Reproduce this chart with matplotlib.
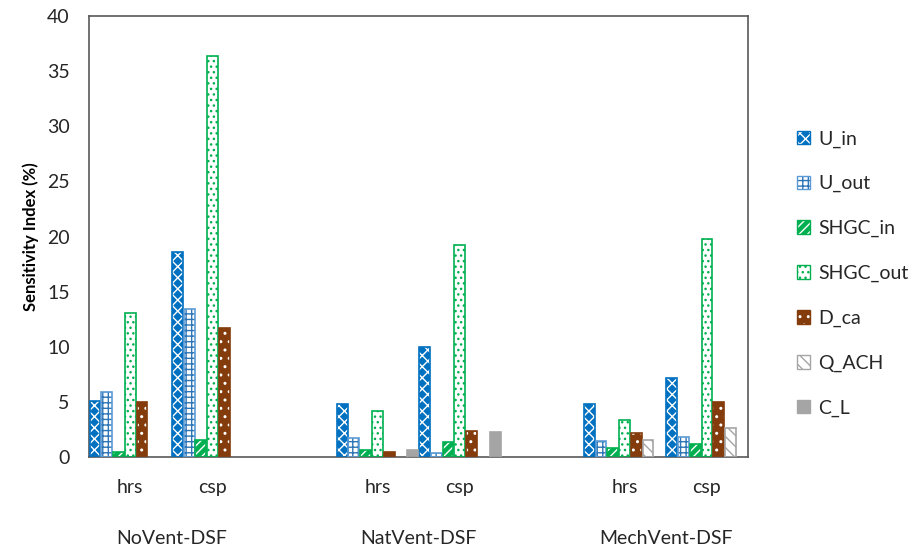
import matplotlib
matplotlib.use("Agg")
import matplotlib.pyplot as plt
import numpy as np

plt.rcParams['font.family'] = ['Lato', 'DejaVu Sans']
plt.rcParams['hatch.linewidth'] = 1.0

groups = ["NoVent-DSF", "NatVent-DSF", "MechVent-DSF"]
subcats = ["hrs", "csp"]
series = ["U_in", "U_out", "SHGC_in", "SHGC_out", "D_ca", "Q_ACH", "C_L"]

# values per series, order: NoVent hrs, NoVent csp, NatVent hrs, NatVent csp, MechVent hrs, MechVent csp
U_in     = [5.1, 18.6, 4.8, 10.0, 4.8, 7.2]
U_out    = [5.9, 13.4, 1.7, 0.4, 1.45, 1.8]
SHGC_in  = [0.5, 1.55, 0.6, 1.4, 0.85, 1.2]
SHGC_out = [13.1, 36.4, 4.2, 19.2, 3.4, 19.8]
D_ca     = [5.0, 11.7, 0.5, 2.4, 2.15, 4.95]
Q_ACH    = [0.0, 0.0, 0.0, 0.0, 1.55, 2.6]
C_L      = [0.0, 0.0, 0.6, 2.25, 0.0, 0.0]
data = [U_in, U_out, SHGC_in, SHGC_out, D_ca, Q_ACH, C_L]

# style: (face, hatch, hatch colour, edge colour)
styles = [
    ("#0070C0", "xxx", "white", "#0070C0"),
    ("white", "+++", "#2E75B6", "#5B9BD5"),
    ("#00B050", "////", "white", "#00B050"),
    ("white", "...", "#00B050", "#00B050"),
    ("#843C0C", "..", "white", "#843C0C"),
    ("white", "\\\\\\", "#A5A5A5", "#A5A5A5"),
    ("#A5A5A5", "", "#A5A5A5", "#A5A5A5"),
]

slots = [0, 1, 3, 4, 6, 7]
nser = len(series)
bw = 1.0 / nser

fig = plt.figure(figsize=(9.09, 5.47), dpi=100)
ax = fig.add_axes([0.098, 0.1645, 0.725, 0.806])

handles = []
for i, (name, vals) in enumerate(zip(series, data)):
    face, hatch, hcol, ecol = styles[i]
    xs = [s - 0.5 + (i + 0.5) * bw for s in slots]
    xv = [x for x, v in zip(xs, vals) if v > 0]
    vv = [v for v in vals if v > 0]
    ax.bar(xv, vv, width=bw * 0.92, color=face, edgecolor=hcol, hatch=hatch, linewidth=0, zorder=2)
    ax.bar(xv, vv, width=bw * 0.92, facecolor="none", edgecolor=ecol, linewidth=1.2, zorder=3)
    h1 = plt.Rectangle((0, 0), 1, 1, facecolor=face, edgecolor=hcol, hatch=hatch, linewidth=0)
    h2 = plt.Rectangle((0, 0), 1, 1, facecolor="none", edgecolor=ecol, linewidth=1.0)
    handles.append((h1, h2))

ax.set_xlim(-0.5, 7.5)
ax.set_ylim(0, 40)
ax.set_yticks(np.arange(0, 41, 5))
ax.tick_params(axis='y', length=0, labelsize=14, pad=14, colors="#262626")
ax.set_xticks([])
for sp in ax.spines.values():
    sp.set_color("#595959")
    sp.set_linewidth(1.2)
ax.set_ylabel("Sensitivity Index (%)", fontsize=12, fontweight='bold', labelpad=6)

trans = ax.get_xaxis_transform()
for gi, g in enumerate(groups):
    for si, sc in enumerate(subcats):
        s = slots[gi * 2 + si]
        ax.text(s, -0.07, sc, transform=trans, ha='center', va='center', fontsize=14, color="#262626")
    ax.text((slots[gi * 2] + slots[gi * 2 + 1]) / 2, -0.185, g, transform=trans,
            ha='center', va='center', fontsize=14, color="#262626")

leg = fig.legend(handles, series, loc='center left', bbox_to_anchor=(0.857, 0.5),
                 frameon=False, fontsize=14, handlelength=0.7, handleheight=0.7,
                 labelspacing=1.42, handletextpad=0.4)
for t in leg.get_texts():
    t.set_color("#262626")

fig.savefig("out.png", dpi=100)
